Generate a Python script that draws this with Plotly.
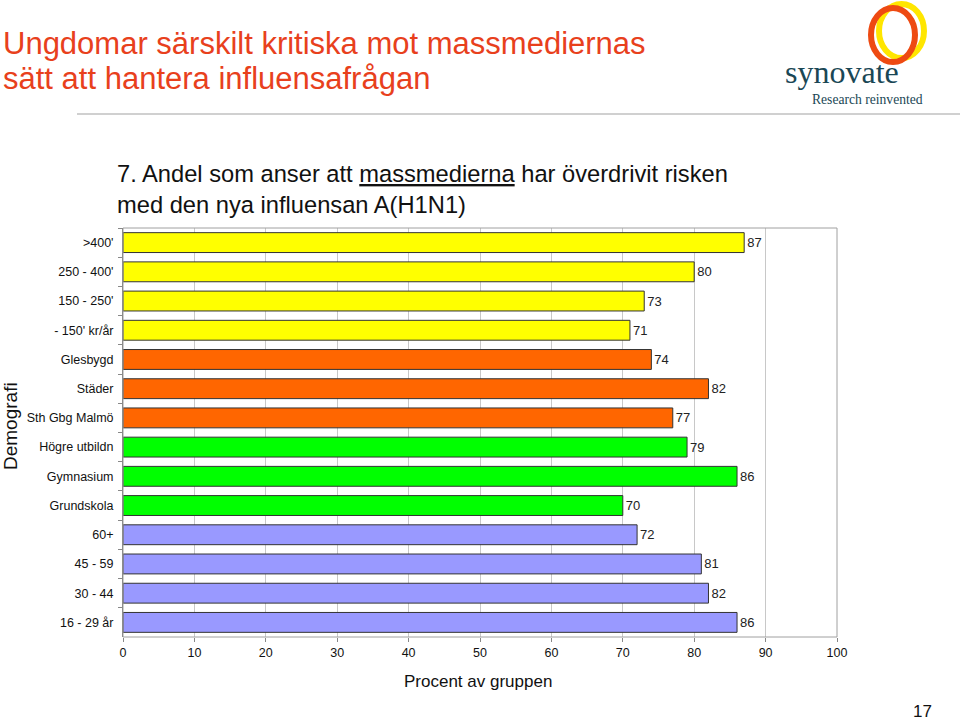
import plotly.graph_objects as go

categories = [">400'", "250 - 400'", "150 - 250'", "- 150' kr/år", "Glesbygd", "Städer",
              "Sth Gbg Malmö", "Högre utbildn", "Gymnasium", "Grundskola",
              "60+", "45 - 59", "30 - 44", "16 - 29 år"]
values = [87, 80, 73, 71, 74, 82, 77, 79, 86, 70, 72, 81, 82, 86]
groups = ["inc", "inc", "inc", "inc", "reg", "reg", "reg", "edu", "edu", "edu",
          "age", "age", "age", "age"]
group_colors = {"inc": "#FFFF00", "reg": "#FF6600", "edu": "#00FF00", "age": "#9999FF"}
x_ticks = [0, 10, 20, 30, 40, 50, 60, 70, 80, 90, 100]

W, H = 960, 720
L, R, T, B = 123, 837, 228, 637


def px(x):
    return (x - L) / (R - L)


def py(y):
    return (B - y) / (B - T)


fig = go.Figure()
fig.add_trace(go.Bar(
    y=categories, x=values, orientation="h",
    marker=dict(color=[group_colors[g] for g in groups], line=dict(color="#333333", width=1)),
    text=[str(v) for v in values], textposition="outside",
    textfont=dict(family="Liberation Sans, Arial", size=13, color="#222222"),
    cliponaxis=False, width=0.68,
))

font = "Liberation Sans, Arial, sans-serif"
serif = "Liberation Serif, DejaVu Serif, serif"

annotations = [
    dict(text="Ungdomar särskilt kritiska mot massmediernas", x=px(1), y=py(43),
         font=dict(family=font, size=31, color="#E8401C")),
    dict(text="sätt att hantera influensafrågan", x=px(1), y=py(78),
         font=dict(family=font, size=31, color="#E8401C")),
    dict(text="7. Andel som anser att <u>massmedierna</u> har överdrivit risken", x=px(115), y=py(174),
         font=dict(family=font, size=23.7, color="#111111")),
    dict(text="med den nya influensan A(H1N1)", x=px(115), y=py(205),
         font=dict(family=font, size=23.7, color="#111111")),
    dict(text="synovate", x=px(783), y=py(72),
         font=dict(family=serif, size=32, color="#1A4755")),
    dict(text="Research reinvented", x=px(810), y=py(100),
         font=dict(family=serif, size=13.6, color="#1A4755")),
    dict(text="Demografi", x=px(10), y=py(426), textangle=-90, xanchor="center",
         font=dict(family=font, size=19, color="#111111")),
    dict(text="Procent av gruppen", x=px(478), y=py(681), xanchor="center",
         font=dict(family=font, size=17, color="#111111")),
    dict(text="17", x=px(922), y=py(711), xanchor="center",
         font=dict(family=font, size=17, color="#111111")),
]
for a in annotations:
    a.setdefault("xanchor", "left")
    a.update(xref="paper", yref="paper", yanchor="middle", showarrow=False)

shapes = [
    dict(type="line", xref="paper", yref="paper", x0=px(77), x1=px(960), y0=py(114), y1=py(114),
         line=dict(color="#D0D0D0", width=2)),
    dict(type="rect", xref="paper", yref="paper", x0=0, x1=1, y0=0, y1=1,
         line=dict(color="#A0A0A0", width=1), layer="above"),
    dict(type="circle", xref="paper", yref="paper", x0=px(879), x1=px(924), y0=py(4), y1=py(58),
         line=dict(color="#FFE600", width=6)),
    dict(type="circle", xref="paper", yref="paper", x0=px(871), x1=px(915), y0=py(8), y1=py(62),
         line=dict(color="#EE4A12", width=6)),
]

fig.update_layout(
    width=W, height=H,
    margin=dict(l=L, r=W - R, t=T, b=H - B, pad=0),
    paper_bgcolor="white", plot_bgcolor="white",
    showlegend=False,
    annotations=annotations, shapes=shapes,
    xaxis=dict(range=[0, 100], tickvals=x_ticks, showgrid=True, gridcolor="#C8C8C8", gridwidth=1,
               zeroline=False, ticks="outside", ticklen=4, tickcolor="#888888",
               tickfont=dict(family=font, size=12.5, color="#111111"), fixedrange=True),
    yaxis=dict(autorange="reversed", showline=True, linecolor="#777777", linewidth=1,
               ticks="outside", ticklen=4, tickcolor="#888888", tickson="boundaries",
               tickfont=dict(family=font, size=12.5, color="#111111"), ticklabelstandoff=6),
)

fig.write_html("out.html", config={"displayModeBar": False},
               post_script="document.body.style.margin='0';document.body.style.padding='0';"
                           "document.documentElement.style.overflow='hidden';")
